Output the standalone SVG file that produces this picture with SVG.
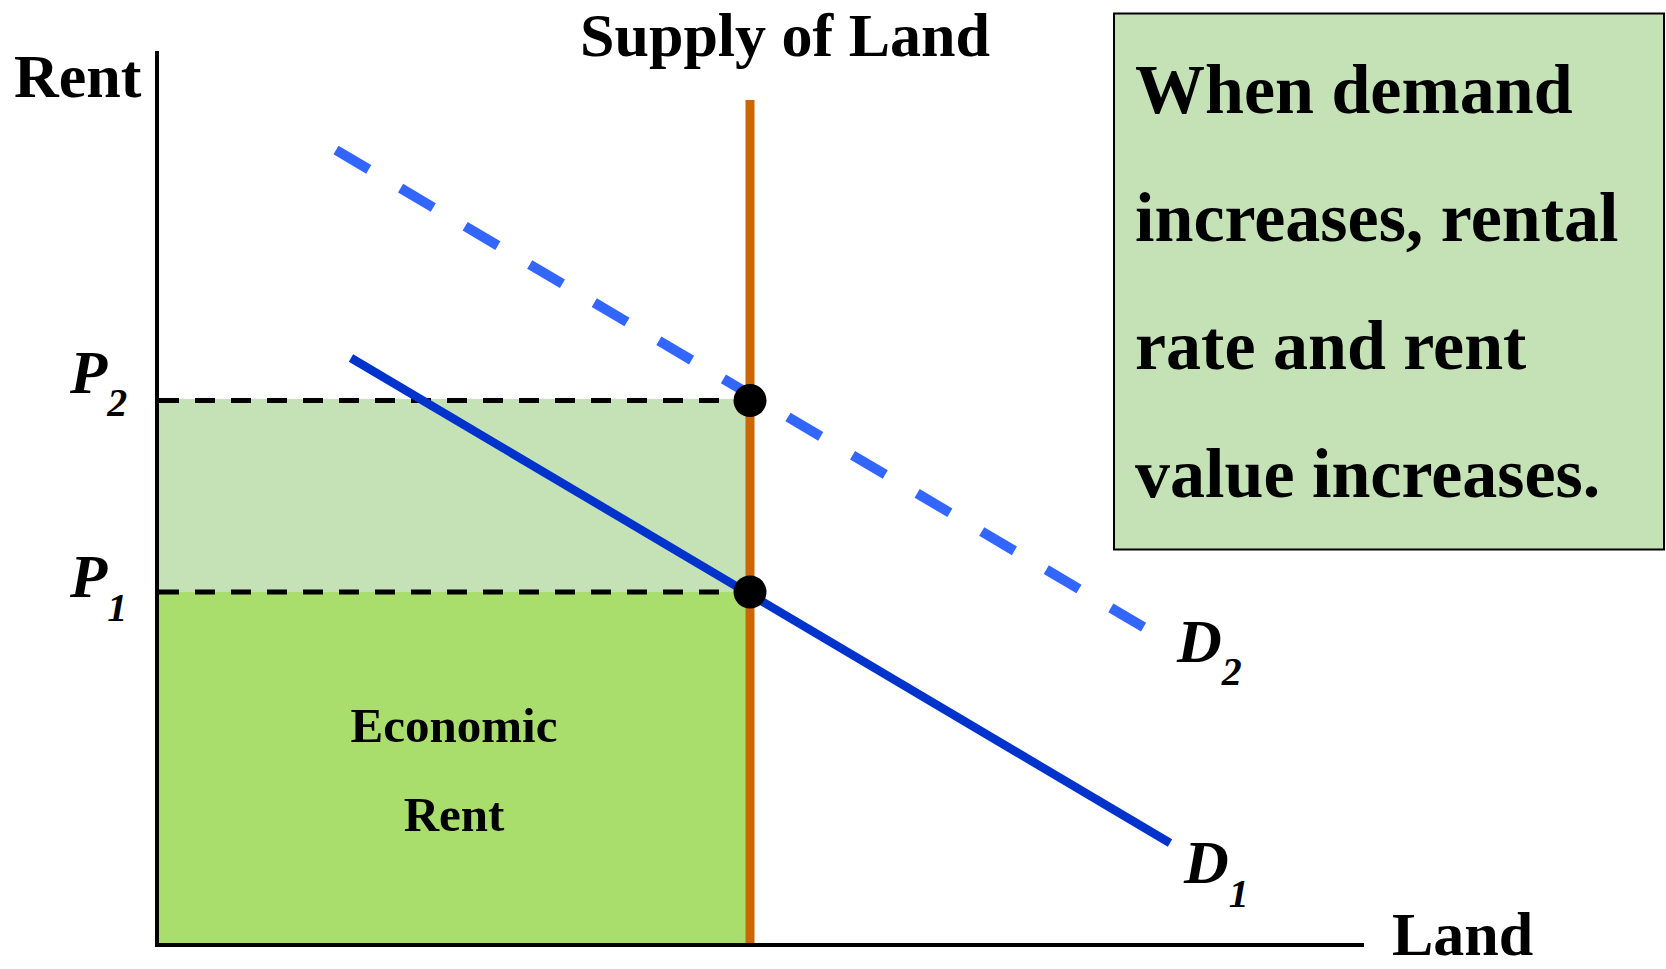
<svg xmlns="http://www.w3.org/2000/svg" width="1666" height="969" viewBox="0 0 1666 969">
<style>
.t{font-family:"Liberation Serif","Times New Roman",serif;font-weight:bold;fill:#000}
.i{font-style:italic}
.ax{stroke:#000;stroke-width:4;fill:none}
.gd{stroke:#000;stroke-width:5;stroke-dasharray:20 16;fill:none}
.dot{fill:#000}
</style>
<rect width="1666" height="969" fill="#fff"/>
<g id="areas">
<rect id="rent-increase" x="157" y="399" width="593" height="193" fill="#C4E2B6"/>
<rect id="economic-rent" x="157" y="592" width="593" height="353" fill="#A9DE6C"/>
</g>
<g id="connectors">
<line class="gd" x1="159" y1="400.5" x2="740" y2="400.5"/>
<line class="gd" x1="159" y1="592" x2="740" y2="592"/>
<line id="supply" x1="750" y1="100" x2="750" y2="945" stroke="#CC6600" stroke-width="9"/>
<line id="d1" x1="351" y1="358" x2="1170" y2="843" stroke="#0033CC" stroke-width="8.5"/>
<line id="d2" x1="336" y1="150" x2="1145" y2="628" stroke="#3366FF" stroke-width="10" stroke-dasharray="38 37"/>
<polyline class="ax" points="157,51 157,945 1364,945"/>
</g>
<g id="eq2"><circle class="dot" cx="750" cy="400.5" r="16.5"/></g>
<g id="eq1"><circle class="dot" cx="750" cy="592" r="16.5"/></g>
<g id="labels">
<text class="t" x="14" y="97" font-size="62">Rent</text>
<text class="t" x="785" y="56" font-size="62" text-anchor="middle">Supply of Land</text>
<text class="t" x="1392" y="955" font-size="62">Land</text>
<text class="t i" x="70" y="393" font-size="61">P<tspan font-size="40" dy="23">2</tspan></text>
<text class="t i" x="70" y="597" font-size="61">P<tspan font-size="40" dy="24">1</tspan></text>
<text class="t i" x="1177" y="662" font-size="62">D<tspan font-size="40" dy="23">2</tspan></text>
<text class="t i" x="1184" y="883" font-size="62">D<tspan font-size="40" dy="24">1</tspan></text>
<text class="t" x="454" y="742" font-size="49" text-anchor="middle">Economic</text>
<text class="t" x="454" y="831" font-size="49" text-anchor="middle">Rent</text>
</g>
<g id="note">
<rect x="1114" y="13.5" width="550" height="536" fill="#C4E2B6" stroke="#000" stroke-width="2"/>
<text class="t" x="1135" y="113" font-size="70">When demand</text>
<text class="t" x="1135" y="241" font-size="70">increases, rental</text>
<text class="t" x="1135" y="369" font-size="70">rate and rent</text>
<text class="t" x="1135" y="497" font-size="70">value increases.</text>
</g>
</svg>
